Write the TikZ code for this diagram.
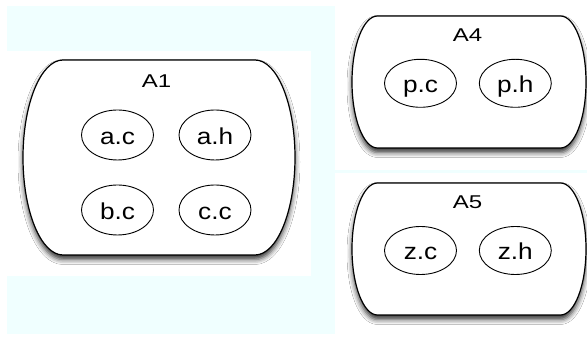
\documentclass[tikz,border=0pt]{standalone}
\usepackage{fontspec}
\setmainfont{Liberation Sans}
\newfontfamily\titlefont[FakeStretch=1.3]{Liberation Sans}
\newfontfamily\itemfont[FakeStretch=1.14]{Liberation Sans}
\usetikzlibrary{shapes.geometric,shadows.blur}
\definecolor{bgcyan}{RGB}{240,255,255}
\tikzset{
  container/.style={draw=black, line width=1.2pt, fill=white,
    blur shadow={shadow xshift=0pt, shadow yshift=-4.5pt, shadow blur radius=5pt, shadow opacity=80}},
  item/.style={ellipse, draw=black, line width=0.9pt, fill=white, inner sep=0pt,
    minimum width=72pt, font=\itemfont\fontsize{23}{23}\selectfont, text height=18.6pt, text depth=0pt},
  title/.style={anchor=base, inner sep=0pt, font=\titlefont\fontsize{18.5}{18.5}\selectfont}
}
\begin{document}
\begin{tikzpicture}[x=1pt,y=1pt]
\useasboundingbox (0,0) rectangle (587,339);
\fill[white] (0,0) rectangle (587,339);
\fill[bgcyan] (7,5) rectangle (335,333);
\fill[white] (7,63) rectangle (311,288);
\fill[bgcyan] (335,166) rectangle (587,169);
% A1
\draw[container] (63,279) -- (255,279)
  arc[start angle=90, end angle=-90, x radius=40, y radius=97.5]
  -- (63,84)
  arc[start angle=270, end angle=90, x radius=40, y radius=97.5] -- cycle;
\node[title] (A1) at (156.5,251) {A1};
\node[item, minimum height=50pt] (ac) at (117.5,204) {a.c};
\node[item, minimum height=50pt] (ah) at (215,204) {a.h};
\node[item, minimum height=50pt] (bc) at (117.5,129) {b.c};
\node[item, minimum height=50pt] (cc) at (215,129) {c.c};
% A4
\draw[container] (377.5,323) -- (560.5,323)
  arc[start angle=90, end angle=-90, x radius=25.5, y radius=66]
  -- (377.5,191)
  arc[start angle=270, end angle=90, x radius=25.5, y radius=66] -- cycle;
\node[title] (A4) at (467.5,297.3) {A4};
\node[item, minimum height=48pt] (pc) at (420.5,255.7) {p.c};
\node[item, minimum height=48pt] (ph) at (515.3,255.7) {p.h};
% A5
\draw[container] (377.5,156) -- (560.5,156)
  arc[start angle=90, end angle=-90, x radius=25.5, y radius=66]
  -- (377.5,24)
  arc[start angle=270, end angle=90, x radius=25.5, y radius=66] -- cycle;
\node[title] (A5) at (467.5,130.3) {A5};
\node[item, minimum height=48pt] (zc) at (420.5,88.5) {z.c};
\node[item, minimum height=48pt] (zh) at (515.3,88.5) {z.h};
\end{tikzpicture}
\end{document}
